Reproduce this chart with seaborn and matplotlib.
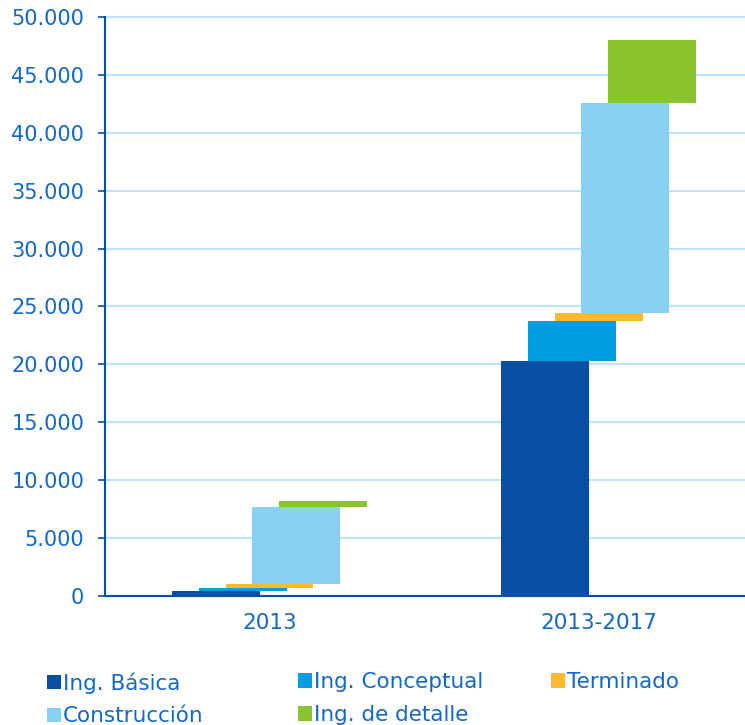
import numpy as np
import matplotlib
matplotlib.use("Agg")
import matplotlib.pyplot as plt
from matplotlib.ticker import FuncFormatter, FixedLocator
import seaborn as sns

# categories and series (floating waterfall pieces)
periods = ["2013", "2013-2017"]
series = ["Ing. Básica", "Ing. Conceptual", "Terminado", "Construcción", "Ing. de detalle"]
basica = [450, 20300]
conceptual = [250, 3450]
terminado = [350, 700]
construccion = [6650, 18100]
detalle = [520, 5500]
colors = ["#0A4FA3", "#009FE3", "#FDB92F", "#89D1F3", "#89C42C"]

sns.set_theme(style="white")
plt.rcParams["font.family"] = ["DejaVu Sans"]
txt = "#1468C8"
dark = "#0B4FA0"

fig = plt.figure(figsize=(7.45, 7.25), dpi=100)
ax = fig.add_axes([0.141, 0.178, 0.859, 0.7986])

values = [basica, conceptual, terminado, construccion, detalle]
bottoms = np.zeros(len(periods))
width = 0.267
step = 0.0813
base = np.arange(len(periods))
for i, (name, vals, col) in enumerate(zip(series, values, colors)):
    xpos = base + (i - 2) * step
    sns.barplot(x=xpos, y=vals, bottom=bottoms.copy(), native_scale=True,
                orient="x", width=width, color=col, saturation=1,
                errorbar=None, label=name, ax=ax, linewidth=0)
    bottoms = bottoms + np.array(vals)

handles, labels = ax.get_legend_handles_labels()
if ax.get_legend() is not None:
    ax.get_legend().remove()

ax.set_xlim(-0.5, 1.445)
ax.set_ylim(0, 50000)
ax.set_yticks(np.arange(0, 50001, 5000))
ax.yaxis.set_major_formatter(FuncFormatter(lambda v, p: f"{int(v):,}".replace(",", ".")))
ax.set_xticks(base)
ax.set_xticklabels(periods)
ax.xaxis.set_minor_locator(FixedLocator([-0.5, 0.5, 1.5]))
ax.tick_params(axis="x", which="major", length=0, pad=12, labelsize=15.5, labelcolor=txt)
ax.tick_params(axis="x", which="minor", length=6, width=1.2, color=dark, direction="out")
ax.tick_params(axis="y", length=5, width=1.2, color=dark, direction="out",
               labelsize=15, labelcolor=txt, pad=10, left=True)
ax.grid(axis="y", color="#BDE6F8", linewidth=1.5)
for gl in ax.get_ygridlines():
    gl.set_clip_on(False)
ax.set_axisbelow(True)
for s in ["top", "right"]:
    ax.spines[s].set_visible(False)
for s in ["left", "bottom"]:
    ax.spines[s].set_color(dark)
    ax.spines[s].set_linewidth(1.5)
ax.set_xlabel("")
ax.set_ylabel("")

# legend: three fixed columns, two rows
columns = [[0, 3], [1, 4], [2]]
col_x = [0.063, 0.400, 0.740]
for cx, idx in zip(col_x, columns):
    leg = fig.legend([handles[k] for k in idx], [labels[k] for k in idx],
                     loc="upper left", bbox_to_anchor=(cx, 0.073), ncol=1,
                     frameon=False, fontsize=15.5,
                     handlelength=0.65, handleheight=0.65,
                     handletextpad=0.08, labelspacing=0.6,
                     borderaxespad=0, borderpad=0)
    for t in leg.get_texts():
        t.set_color(txt)

fig.savefig("out.png", dpi=100)
